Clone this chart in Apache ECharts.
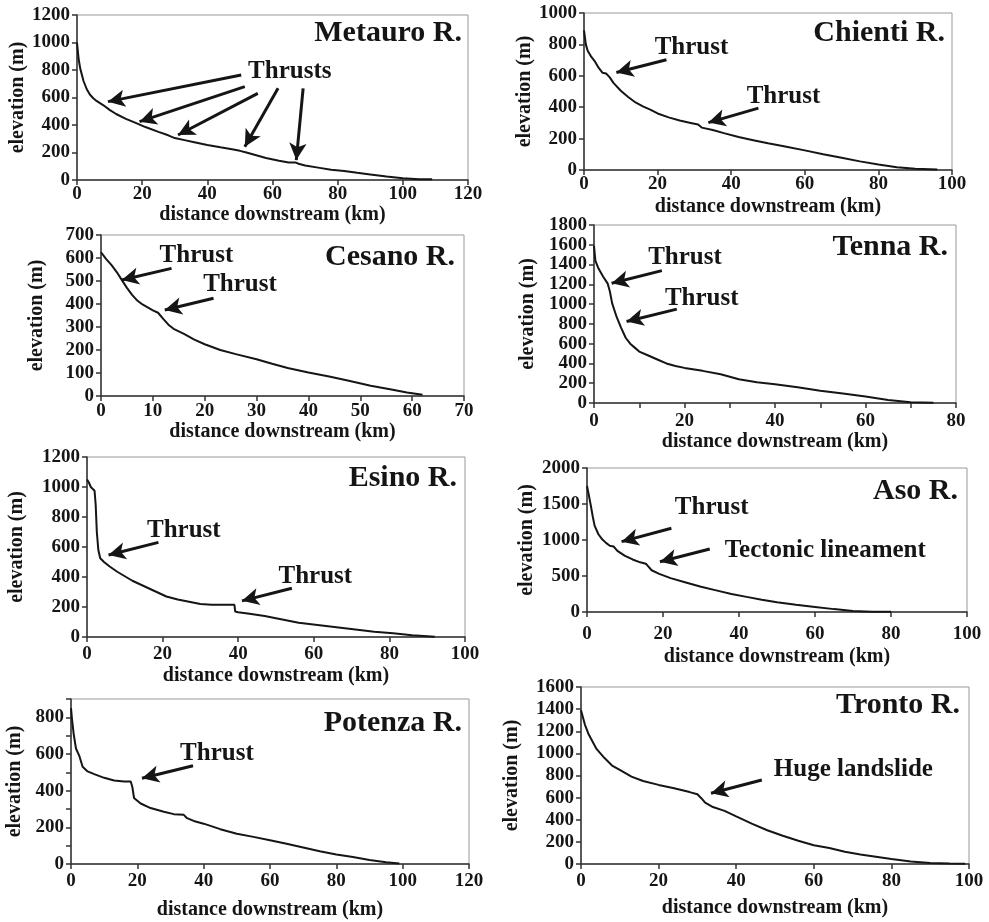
<!DOCTYPE html>
<html>
<head>
<meta charset="utf-8">
<script src="https://cdn.jsdelivr.net/npm/echarts@6/dist/echarts.min.js"></script>
<style>
  html, body { margin: 0; padding: 0; background: #fff; }
  #main { width: 989px; height: 922px; }
</style>
</head>
<body>
<div id="main"></div>
<script>
// river long profiles: distance downstream (km) and elevation (m)
const metauroKm   = [0, 0.5, 1, 2, 3, 4, 5, 6, 8, 10, 12, 15, 18, 21, 25, 28, 30, 33, 36, 40, 44, 48, 50, 52, 55, 58, 62, 65, 67, 68, 70, 74, 78, 82, 86, 90, 95, 100, 105, 109];
const metauroElev = [1000, 880, 810, 720, 660, 620, 595, 575, 545, 510, 480, 445, 415, 385, 350, 325, 305, 290, 275, 255, 238, 222, 212, 200, 180, 160, 140, 128, 128, 118, 105, 90, 75, 65, 52, 40, 25, 12, 6, 5];

const chientiKm   = [0, 0.5, 1, 2, 3, 4, 5, 6, 6.5, 7, 8, 10, 12, 14, 16, 18, 20, 23, 26, 29, 31, 32, 35, 38, 42, 46, 50, 55, 60, 65, 70, 75, 80, 85, 90, 96];
const chientiElev = [890, 800, 760, 720, 690, 650, 620, 615, 618, 590, 555, 505, 465, 430, 405, 385, 360, 335, 315, 300, 290, 270, 255, 235, 210, 190, 170, 148, 125, 100, 78, 55, 35, 18, 8, 3];

const cesanoKm   = [0, 1, 2, 3, 4, 5, 6, 7, 8, 9, 10, 11, 12, 13, 14, 16, 18, 20, 23, 26, 30, 33, 36, 40, 44, 48, 52, 56, 59, 62];
const cesanoElev = [625, 595, 570, 540, 505, 470, 440, 415, 398, 385, 372, 362, 335, 310, 292, 270, 245, 225, 200, 182, 160, 140, 122, 102, 85, 65, 45, 28, 15, 5];

const tennaKm   = [0, 0.3, 1, 2, 3, 3.5, 4, 5, 6, 7, 8, 9, 10, 12, 14, 16, 18, 20, 24, 28, 32, 36, 40, 45, 50, 55, 60, 65, 70, 75];
const tennaElev = [1590, 1440, 1360, 1280, 1210, 1130, 1010, 870, 760, 660, 600, 560, 520, 480, 440, 400, 375, 355, 325, 290, 240, 210, 190, 160, 125, 95, 65, 30, 8, 2];

const esinoKm   = [0, 0.5, 1, 2, 2.3, 2.6, 3, 3.5, 4.5, 6, 8, 10, 12, 15, 18, 21, 24, 27, 30, 33, 36, 39, 39.2, 40, 43, 47, 51, 56, 61, 66, 71, 76, 81, 86, 92];
const esinoElev = [1050, 1030, 1000, 975, 880, 700, 580, 525, 500, 470, 435, 405, 375, 340, 305, 270, 250, 235, 220, 215, 215, 215, 170, 165, 155, 140, 120, 95, 80, 65, 50, 35, 25, 12, 2];

const asoKm   = [0, 0.5, 1, 1.5, 2, 3, 4, 5, 6, 7, 8, 10, 12, 14, 15.5, 16, 17, 19, 22, 26, 30, 34, 38, 42, 46, 50, 55, 60, 65, 70, 75, 80];
const asoElev = [1750, 1620, 1480, 1330, 1200, 1080, 1010, 960, 920, 910, 850, 780, 730, 690, 670, 640, 580, 530, 470, 410, 350, 300, 250, 210, 170, 135, 100, 70, 40, 15, 5, 2];

const potenzaKm   = [0, 0.3, 0.8, 1.5, 2.5, 3.5, 5, 7, 10, 13, 16, 18, 18.5, 19, 21, 24, 28, 31, 34, 35, 37, 40, 45, 50, 55, 60, 65, 70, 75, 80, 85, 90, 95, 99];
const potenzaElev = [850, 790, 710, 630, 590, 530, 505, 490, 470, 455, 450, 450, 420, 360, 330, 305, 285, 272, 268, 250, 235, 220, 190, 165, 148, 130, 110, 90, 70, 52, 38, 22, 10, 3];

const trontoKm   = [0, 1, 2, 4, 6, 8, 10, 13, 16, 20, 24, 28, 30, 31, 32, 34, 37, 40, 44, 48, 52, 56, 60, 64, 68, 72, 76, 80, 85, 90, 95, 99];
const trontoElev = [1390, 1260, 1170, 1040, 960, 890, 850, 790, 750, 715, 685, 650, 630, 595, 555, 515, 480, 430, 365, 305, 255, 210, 170, 145, 110, 85, 65, 45, 22, 8, 4, 3];

// axis ranges per panel: [xMax, xStep, yMax, yStep]
const riverNames = ['Metauro R.', 'Chienti R.', 'Cesano R.', 'Tenna R.', 'Esino R.', 'Aso R.', 'Potenza R.', 'Tronto R.'];
const xMaxes  = [120, 100, 70, 80, 100, 100, 120, 100];
const xSteps  = [20, 20, 10, 10, 20, 20, 20, 20];
const xLabelEvery = [20, 20, 10, 20, 20, 20, 20, 20];
const yMaxes  = [1200, 1000, 700, 1800, 1200, 2000, 900, 1600];
const ySteps  = [200, 200, 100, 200, 200, 500, 100, 200];
const yLabelEvery = [200, 200, 100, 200, 200, 500, 200, 200];

// annotations: arrows [x0, y0, x1, y1] (tail -> head) and labels [x, y, text]
const metauroArrows = [[50.4, 764, 9.5, 570], [51.5, 679, 19.2, 424], [55.5, 630, 31, 327], [61.7, 667, 51.5, 242], [69.4, 667, 67.3, 145]];
const metauroNotes  = [[65.3, 788, 'Thrusts']];
const chientiArrows = [[22.4, 702, 8.8, 621], [47.4, 394, 33.8, 302]];
const chientiNotes  = [[29.2, 777, 'Thrust'], [54.2, 468, 'Thrust']];
const cesanoArrows  = [[13.6, 555, 4, 504], [21.7, 425, 12.3, 374]];
const cesanoNotes   = [[18.4, 609, 'Thrust'], [26.8, 483, 'Thrust']];
const tennaArrows   = [[15, 1339, 3.9, 1211], [18.3, 949, 7.2, 824]];
const tennaNotes    = [[20.1, 1474, 'Thrust'], [23.8, 1060, 'Thrust']];
const esinoArrows   = [[18.9, 631, 5.7, 547], [54.2, 325, 41, 241]];
const esinoNotes    = [[25.6, 713, 'Thrust'], [60.4, 403, 'Thrust']];
const asoArrows     = [[22.2, 1163, 9.1, 977], [32.3, 874, 19.2, 698]];
const asoNotes      = [[32.8, 1451, 'Thrust'], [62.7, 847, 'Tectonic lineament']];
const potenzaArrows = [[36.8, 536, 21.4, 468]];
const potenzaNotes  = [[44, 605, 'Thrust']];
const trontoArrows  = [[46.6, 760, 33.5, 639]];
const trontoNotes   = [[70.2, 850, 'Huge landslide']];

const kms   = [metauroKm, chientiKm, cesanoKm, tennaKm, esinoKm, asoKm, potenzaKm, trontoKm];
const elevs = [metauroElev, chientiElev, cesanoElev, tennaElev, esinoElev, asoElev, potenzaElev, trontoElev];
const arrows = [metauroArrows, chientiArrows, cesanoArrows, tennaArrows, esinoArrows, asoArrows, potenzaArrows, trontoArrows];
const notes  = [metauroNotes, chientiNotes, cesanoNotes, tennaNotes, esinoNotes, asoNotes, potenzaNotes, trontoNotes];

// layout (pixels)
const grids = [
  { left: 77,  top: 15,  width: 391, height: 165 },
  { left: 584, top: 13,  width: 368, height: 157 },
  { left: 101, top: 235, width: 363, height: 161 },
  { left: 594, top: 225, width: 362, height: 178 },
  { left: 87,  top: 457, width: 378, height: 180 },
  { left: 587, top: 468, width: 380, height: 144 },
  { left: 71,  top: 699, width: 398, height: 165 },
  { left: 581, top: 687, width: 388, height: 177 }
];
const titlePos = [[527, 18], [44, 18], [534, 242], [41, 232], [532, 463], [31, 476], [527, 708], [29, 690]];
const xLabelMargin = [5, 5, 6, 9, 8, 13, 8, 8];
const xNameGap = [20, 27, 26, 29, 29, 35, 36, 34];
const yNameGap = [47, 44, 54, 56, 60, 50, 46, 59];

const serif = '"Liberation Serif", "Times New Roman", serif';
const ink = '#151515';

const echart = echarts.init(document.getElementById('main'));

const option = {
  backgroundColor: '#fff',
  animation: false,
  title: riverNames.map((name, i) => ({
    text: name,
    right: titlePos[i][0],
    top: titlePos[i][1],
    padding: 0,
    textStyle: { fontFamily: serif, fontWeight: 'bold', fontSize: 30, color: ink }
  })),
  grid: grids.map(g => Object.assign({ show: true, borderColor: '#999', borderWidth: 1, backgroundColor: 'transparent' }, g)),
  xAxis: grids.map((g, i) => ({
    type: 'value',
    gridIndex: i,
    min: 0,
    max: xMaxes[i],
    interval: xSteps[i],
    name: 'distance downstream (km)',
    nameLocation: 'middle',
    nameGap: xNameGap[i],
    nameTextStyle: { fontFamily: serif, fontWeight: 'bold', fontSize: 20, color: ink },
    axisLine: { onZero: false, lineStyle: { color: '#333', width: 1.5 } },
    axisTick: { show: true, length: 5, lineStyle: { color: '#333', width: 1.5 } },
    axisLabel: {
      margin: xLabelMargin[i],
      fontFamily: serif, fontWeight: 'bold', fontSize: 19, color: ink,
      formatter: v => (v % xLabelEvery[i] === 0 ? String(v) : '')
    },
    splitLine: { show: false }
  })),
  yAxis: grids.map((g, i) => ({
    type: 'value',
    gridIndex: i,
    min: 0,
    max: yMaxes[i],
    interval: ySteps[i],
    name: 'elevation (m)',
    nameLocation: 'middle',
    nameGap: yNameGap[i],
    nameTextStyle: { fontFamily: serif, fontWeight: 'bold', fontSize: 20, color: ink },
    axisLine: { show: true, onZero: false, lineStyle: { color: '#333', width: 1.5 } },
    axisTick: { show: true, length: 5, lineStyle: { color: '#333', width: 1.5 } },
    axisLabel: {
      margin: 7,
      fontFamily: serif, fontWeight: 'bold', fontSize: 19, color: ink,
      formatter: v => (v % yLabelEvery[i] === 0 ? String(v) : '')
    },
    splitLine: { show: false }
  })),
  series: kms.map((km, i) => ({
    type: 'line',
    xAxisIndex: i,
    yAxisIndex: i,
    showSymbol: false,
    silent: true,
    lineStyle: { color: ink, width: 2 },
    data: km.map((d, j) => [d, elevs[i][j]]),
    markLine: {
      silent: true,
      symbol: ['none', 'arrow'],
      symbolSize: [13, 17],
      lineStyle: { color: ink, width: 3, type: 'solid' },
      label: { show: false },
      data: arrows[i].map(a => [{ coord: [a[0], a[1]] }, { coord: [a[2], a[3]] }])
    },
    markPoint: {
      silent: true,
      symbol: 'circle',
      symbolSize: 1,
      itemStyle: { color: 'rgba(0,0,0,0)' },
      label: {
        show: true,
        position: 'inside',
        fontFamily: serif, fontWeight: 'bold', fontSize: 25, color: ink,
        formatter: p => p.name
      },
      data: notes[i].map(n => ({ name: n[2], coord: [n[0], n[1]] }))
    }
  }))
};

echart.setOption(option);
</script>
</body>
</html>
